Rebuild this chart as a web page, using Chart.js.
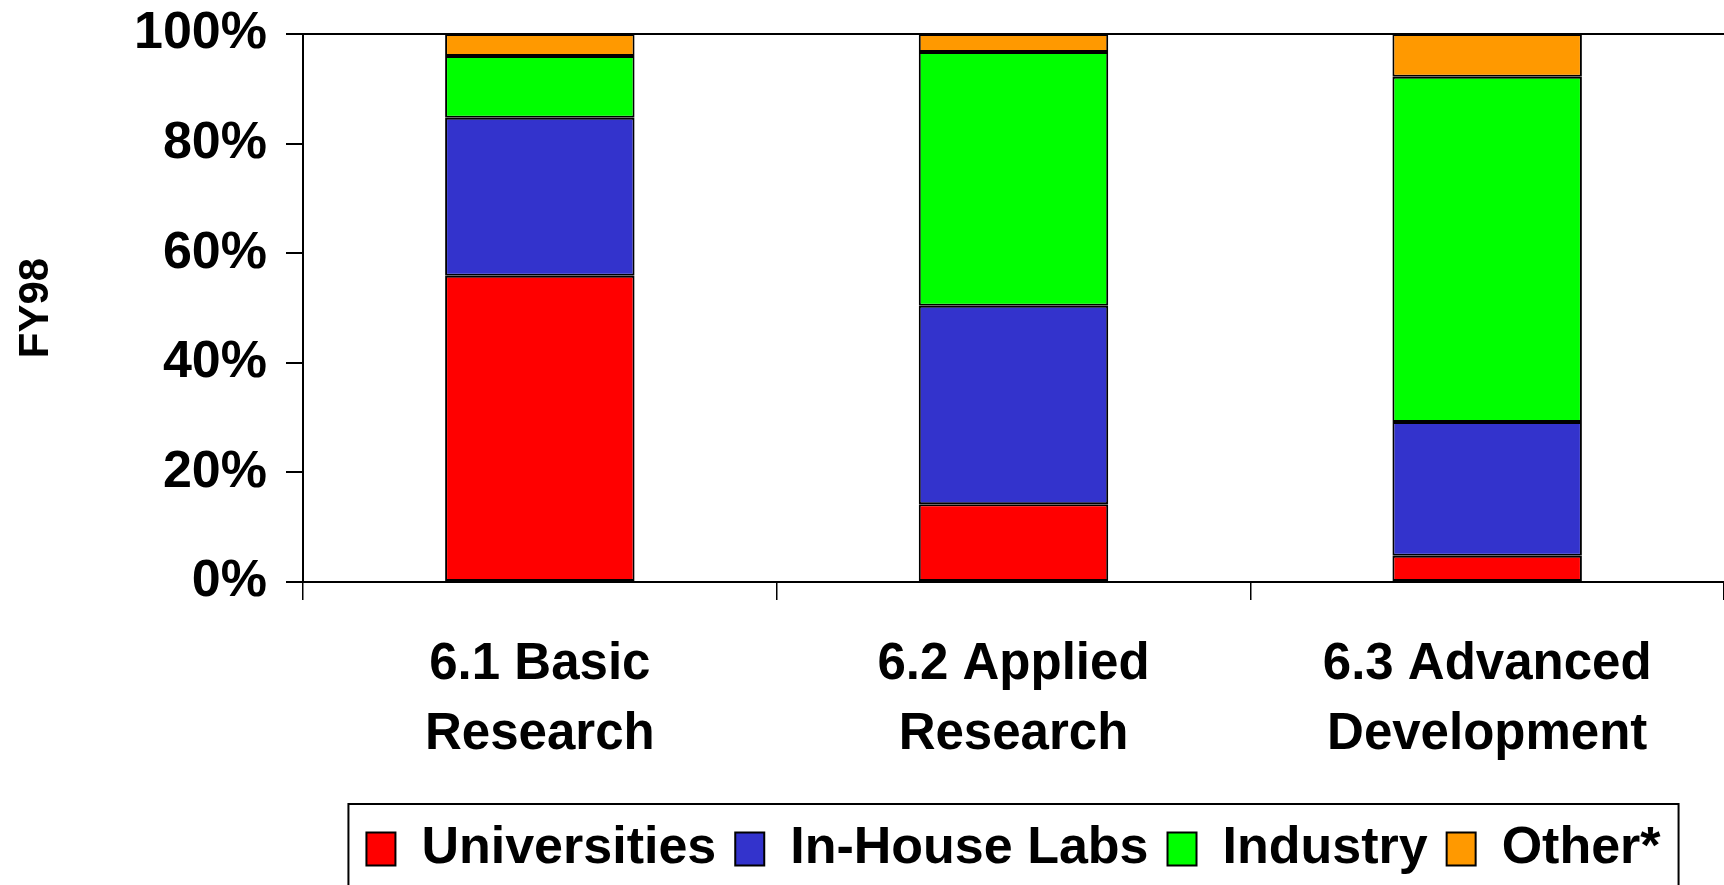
<!DOCTYPE html>
<html>
<head>
<meta charset="utf-8">
<script src="https://cdn.jsdelivr.net/npm/chart.js@4/dist/chart.umd.min.js"></script>
<style>
  html, body { margin: 0; padding: 0; background: #fff; }
  #wrap { width: 1724px; height: 885px; position: relative; }
</style>
</head>
<body>
<div id="wrap"><canvas id="c" width="1724" height="885"></canvas></div>
<script>
// Funding share by performer, FY98 (percent of each budget category)
const categories = [["6.1 Basic", "Research"], ["6.2 Applied", "Research"], ["6.3 Advanced", "Development"]];
const universities = [55.9, 14.2, 4.8];
const inHouseLabs = [28.8, 36.2, 24.4];
const industry = [11.3, 46.3, 63.0];
const other = [4.0, 3.3, 7.8];
const yTicks = [0, 20, 40, 60, 80, 100];

const FONT = "'Liberation Sans', Arial, Helvetica, sans-serif";

// Frame drawn around the legend row
const legendFrame = {
  id: 'legendFrame',
  afterDraw(chart) {
    const lg = chart.legend;
    if (!lg || !lg.legendHitBoxes || !lg.legendHitBoxes.length) return;
    const boxes = lg.legendHitBoxes;
    const first = boxes[0], last = boxes[boxes.length - 1];
    const left = first.left - 18;
    const right = last.left + last.width + 18;
    const top = first.top - 19;
    const ctx = chart.ctx;
    ctx.save();
    ctx.strokeStyle = '#000';
    ctx.lineWidth = 2;
    ctx.beginPath();
    ctx.moveTo(left, chart.height + 5);
    ctx.lineTo(left, top);
    ctx.lineTo(right, top);
    ctx.lineTo(right, chart.height + 5);
    ctx.stroke();
    ctx.restore();
  }
};

const seg = (label, data, color) => ({
  label, data,
  backgroundColor: color,
  borderColor: '#000',
  borderWidth: 2,
  borderSkipped: false,
  categoryPercentage: 1.0,
  barPercentage: 0.4
});

new Chart(document.getElementById('c'), {
  type: 'bar',
  data: {
    labels: categories,
    datasets: [
      seg('Universities', universities, '#FF0000'),
      seg('In-House Labs', inHouseLabs, '#3333CC'),
      seg('Industry', industry, '#00FF00'),
      seg('Other*', other, '#FF9900')
    ]
  },
  options: {
    responsive: false,
    animation: false,
    layout: { padding: { top: 34, left: 0, right: 0, bottom: 0 } },
    plugins: {
      tooltip: { enabled: false },
      legend: {
        position: 'bottom',
        fullSize: false,
        labels: {
          color: '#000',
          font: { family: FONT, size: 52, weight: 'bold' },
          boxWidth: 29,
          boxHeight: 33,
          padding: 19
        }
      }
    },
    scales: {
      x: {
        stacked: true,
        afterFit(scale) { scale.height = 222; },
        border: { display: true, color: '#000', width: 2 },
        grid: {
          offset: true,
          drawOnChartArea: false,
          drawTicks: true,
          tickLength: 18,
          color: '#000',
          lineWidth: 1.5
        },
        ticks: {
          color: '#000',
          padding: 30,
          maxRotation: 0,
          autoSkip: false,
          font: { family: FONT, size: 51, weight: 'bold', lineHeight: 1.37 }
        }
      },
      y: {
        stacked: true,
        min: 0,
        max: 100,
        afterFit(scale) {
          scale.width = 303;
          scale.paddingTop = 0;
          scale.paddingBottom = 0;
        },
        afterBuildTicks(scale) { scale.ticks = yTicks.map(v => ({ value: v })); },
        border: { display: true, color: '#000', width: 2 },
        grid: {
          drawOnChartArea: true,
          drawTicks: true,
          tickLength: 17,
          color: ctx => (ctx.tick && ctx.tick.value === 100) ? '#000' : 'rgba(0,0,0,0)',
          tickColor: '#000',
          lineWidth: 2
        },
        ticks: {
          color: '#000',
          padding: 19,
          font: { family: FONT, size: 52, weight: 'bold' },
          callback: v => v + '%'
        },
        title: {
          display: true,
          text: 'FY98',
          color: '#000',
          padding: { top: 11, bottom: 0 },
          font: { family: FONT, size: 42, weight: 'bold' }
        }
      }
    }
  },
  plugins: [legendFrame]
});
</script>
</body>
</html>
